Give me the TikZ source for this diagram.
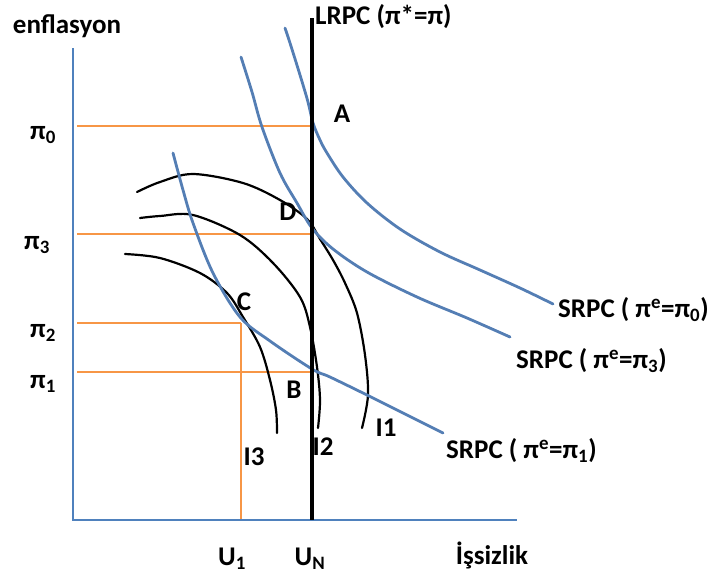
\documentclass[tikz,border=0pt]{standalone}
\usepackage{fontspec}
\setmainfont{Carlito}
\usetikzlibrary{calc}
\definecolor{axblue}{RGB}{79,129,189}
\definecolor{curveblue}{RGB}{84,126,180}
\definecolor{lineorange}{RGB}{247,150,70}
\tikzset{
  axisline/.style={axblue, line width=2.6pt},
  srpc/.style={curveblue, line width=2.8pt, line cap=round},
  icurve/.style={black, line width=2.2pt, line cap=round},
  lrpc/.style={black, line width=3.6pt},
  guide/.style={lineorange, line width=2.7pt},
  guidethin/.style={lineorange, line width=1.4pt},
  lbl/.style={inner sep=0pt, font=\fontsize{27}{31}\selectfont\bfseries},
}
\begin{document}
\begin{tikzpicture}[x=1pt,y=-1pt]
\useasboundingbox (0,0) rectangle (719,582);
% key points
\coordinate (O) at (73,520);
\coordinate (ytop) at (73,48);
\coordinate (xend) at (517,520);
\coordinate (lrtop) at (312,18);
\coordinate (lrbot) at (312,520);
\coordinate (A) at (312,126);
\coordinate (D) at (312,234);
\coordinate (B) at (312,372);
\coordinate (C) at (241,323);
\coordinate (p0) at (77,126);
\coordinate (p3) at (77,234);
\coordinate (p2) at (77,323);
\coordinate (p1) at (77,372);
\coordinate (u1) at (241,520);
% orange guides
\draw[guide] (p0) -- (A);
\draw[guide] (p3) -- (D);
\draw[guide] (p2) -- (C);
\draw[guide] (p1) -- (B);
\draw[guidethin] (C) -- (u1);
% axes
\draw[axisline] (ytop) -- (O) -- (xend);
% indifference curves
\draw[icurve] plot[smooth, tension=0.55] coordinates {(137,192) (160,182) (193,174) (243,183) (280,200) (307,219) (320,239) (333,260) (345,283) (357,313) (365,355) (368,395) (362,428)};
\draw[icurve] plot[smooth, tension=0.55] coordinates {(140,218) (160,216) (193,215) (240,235) (273,263) (300,297) (310,327) (317,367) (320,400) (318,428)};
\draw[icurve] plot[smooth, tension=0.55] coordinates {(125,254) (160,258) (200,273) (227,293) (243,317) (260,347) (270,380) (276,410) (277,433)};
% SRPC curves
\draw[srpc] plot[smooth, tension=0.55] coordinates {(285,28) (290,43) (300,75) (308,102) (313,123) (320,140) (327,153) (343,177) (367,203) (400,229) (440,252) (480,270) (520,288) (553,304)};
\draw[srpc] plot[smooth, tension=0.55] coordinates {(241,57) (252,92) (262,127) (280,173) (297,203) (312,228) (333,249) (367,272) (417,297) (467,318) (510,337)};
\draw[srpc] plot[smooth, tension=0.55] coordinates {(173,153) (183,190) (193,223) (213,273) (240,317) (270,341) (312,369) (330,377) (367,395) (405,414) (443,433)};
% LRPC
\draw[lrpc] (lrtop) -- (lrbot);
% labels
\node[lbl] (tenf) at (67,26) {enflasyon};
\node[lbl, anchor=west] (tlrpc) at (315,17) {LRPC (π*=π)};
\node[lbl] (tp0) at (43,135) {π\textsubscript{0}};
\node[lbl] (tp3) at (37,245) {π\textsubscript{3}};
\node[lbl] (tp2) at (43,333) {π\textsubscript{2}};
\node[lbl] (tp1) at (43,384) {π\textsubscript{1}};
\node[lbl] (tA) at (342,114) {A};
\node[lbl] (tD) at (288,212) {D};
\node[lbl] (tC) at (244,302) {C};
\node[lbl] (tB) at (294,390) {B};
\node[lbl] (tI1) at (386,428) {I1};
\node[lbl] (tI2) at (323,447) {I2};
\node[lbl] (tI3) at (254,457) {I3};
\node[lbl, anchor=west] (ts0) at (558,310) {SRPC ( π\textsuperscript{e}=π\textsubscript{0})};
\node[lbl, anchor=west] (ts3) at (516,361) {SRPC ( π\textsuperscript{e}=π\textsubscript{3})};
\node[lbl, anchor=west] (ts1) at (446,451) {SRPC ( π\textsuperscript{e}=π\textsubscript{1})};
\node[lbl] (tu1) at (232,559) {U\textsubscript{1}};
\node[lbl] (tun) at (310,559) {U\textsubscript{N}};
\node[lbl] (tiss) at (492,555) {İşsizlik};
\end{tikzpicture}
\end{document}
